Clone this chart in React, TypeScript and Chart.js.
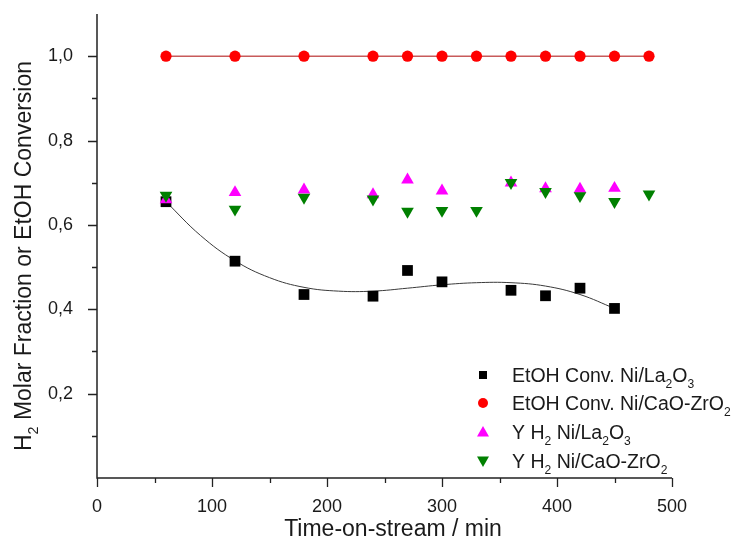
import React, { useEffect, useRef } from 'react';
import { Chart, registerables } from 'chart.js';

Chart.register(...registerables);

// ---------- Data ----------
const timesConvLa = [60, 120, 180, 240, 270, 300, 360, 390, 420, 450];
const convLa = [0.655, 0.514, 0.435, 0.431, 0.492, 0.465, 0.445, 0.432, 0.45, 0.402];

const timesConvCaZr = [60, 120, 180, 240, 270, 300, 330, 360, 390, 420, 450, 480];
const convCaZr = [1.0, 1.0, 1.0, 1.0, 1.0, 1.0, 1.0, 1.0, 1.0, 1.0, 1.0, 1.0];

const timesYLa = [60, 120, 180, 240, 270, 300, 360, 390, 420, 450];
const yH2La = [0.66, 0.677, 0.683, 0.672, 0.707, 0.681, 0.7, 0.686, 0.685, 0.687];

const timesYCaZr = [60, 120, 180, 240, 270, 300, 330, 360, 390, 420, 450, 480];
const yH2CaZr = [0.67, 0.637, 0.665, 0.661, 0.632, 0.634, 0.634, 0.7, 0.679, 0.669, 0.655, 0.673];

// fitted trend curve through the Ni/La2O3 conversion points
const fitTimes = [60, 90, 120, 150, 180, 210, 240, 270, 300, 330, 360, 390, 420, 450];
const fitConvLa = [0.655, 0.575, 0.515, 0.475, 0.452, 0.443, 0.443, 0.45, 0.458, 0.463, 0.463, 0.455, 0.435, 0.402];

const xMajorTicks = [0, 100, 200, 300, 400, 500];
const xMinorTicks = [50, 150, 250, 350, 450];
const yMajorTicks = [0.2, 0.4, 0.6, 0.8, 1.0];
const yMinorTicks = [0.1, 0.3, 0.5, 0.7, 0.9];

type Part = { t: string; sub?: boolean };

const xTitle: Part[] = [{ t: 'Time-on-stream / min' }];
const yTitle: Part[] = [{ t: 'H' }, { t: '2', sub: true }, { t: ' Molar Fraction or EtOH Conversion' }];

const legendLabels: Part[][] = [
  [{ t: 'EtOH Conv. Ni/La' }, { t: '2', sub: true }, { t: 'O' }, { t: '3', sub: true }],
  [{ t: 'EtOH Conv. Ni/CaO-ZrO' }, { t: '2', sub: true }],
  [{ t: 'Y H' }, { t: '2', sub: true }, { t: ' Ni/La' }, { t: '2', sub: true }, { t: 'O' }, { t: '3', sub: true }],
  [{ t: 'Y H' }, { t: '2', sub: true }, { t: ' Ni/CaO-ZrO' }, { t: '2', sub: true }],
];
const legendMarkers = ['rect', 'circle', 'triangle', 'triangleDown'];
const legendColors = ['#000000', '#ff0000', '#ff00ff', '#008000'];

const FONT = 'Arial, "Liberation Sans", Helvetica, sans-serif';
const TEXT = '#1a1a1a';

function pts(xs: number[], ys: number[]) {
  return xs.map((x, i) => ({ x, y: ys[i] }));
}

function fontOf(size: number) {
  return `${size}px ${FONT}`;
}

function richWidth(ctx: CanvasRenderingContext2D, parts: Part[], size: number) {
  let w = 0;
  for (const p of parts) {
    ctx.font = fontOf(p.sub ? size * 0.62 : size);
    w += ctx.measureText(p.t).width;
  }
  return w;
}

function drawRich(ctx: CanvasRenderingContext2D, parts: Part[], x: number, y: number, size: number) {
  ctx.textBaseline = 'alphabetic';
  ctx.textAlign = 'left';
  let cx = x;
  for (const p of parts) {
    const s = p.sub ? size * 0.62 : size;
    ctx.font = fontOf(s);
    ctx.fillText(p.t, cx, y + (p.sub ? size * 0.3 : 0));
    cx += ctx.measureText(p.t).width;
  }
}

function drawMarker(ctx: CanvasRenderingContext2D, kind: string, x: number, y: number, color: string) {
  ctx.fillStyle = color;
  ctx.beginPath();
  if (kind === 'rect') {
    ctx.rect(x - 4, y - 4, 8, 8);
  } else if (kind === 'circle') {
    ctx.arc(x, y, 5, 0, Math.PI * 2);
  } else if (kind === 'triangle') {
    ctx.moveTo(x, y - 6);
    ctx.lineTo(x + 6, y + 4.5);
    ctx.lineTo(x - 6, y + 4.5);
    ctx.closePath();
  } else {
    ctx.moveTo(x, y + 6);
    ctx.lineTo(x + 6, y - 4.5);
    ctx.lineTo(x - 6, y - 4.5);
    ctx.closePath();
  }
  ctx.fill();
}

const decorPlugin = {
  id: 'decor',
  afterDraw(chart: any) {
    const ctx: CanvasRenderingContext2D = chart.ctx;
    const xs = chart.scales.x;
    const ys = chart.scales.y;
    const area = chart.chartArea;
    ctx.save();
    ctx.strokeStyle = '#222';
    ctx.lineWidth = 1.5;
    // axis lines
    ctx.beginPath();
    ctx.moveTo(area.left, area.top);
    ctx.lineTo(area.left, area.bottom);
    ctx.lineTo(area.right, area.bottom);
    ctx.stroke();
    // ticks
    ctx.lineWidth = 1.3;
    ctx.beginPath();
    for (const v of yMajorTicks) {
      const py = Math.round(ys.getPixelForValue(v)) + 0.5;
      ctx.moveTo(area.left - 9, py);
      ctx.lineTo(area.left, py);
    }
    for (const v of yMinorTicks) {
      const py = Math.round(ys.getPixelForValue(v)) + 0.5;
      ctx.moveTo(area.left - 5, py);
      ctx.lineTo(area.left, py);
    }
    for (const v of xMajorTicks) {
      const px = Math.round(xs.getPixelForValue(v)) + 0.5;
      ctx.moveTo(px, area.bottom);
      ctx.lineTo(px, area.bottom + 9);
    }
    for (const v of xMinorTicks) {
      const px = Math.round(xs.getPixelForValue(v)) + 0.5;
      ctx.moveTo(px, area.bottom);
      ctx.lineTo(px, area.bottom + 5);
    }
    ctx.stroke();

    ctx.fillStyle = TEXT;
    // x title
    const xtSize = 23;
    const xtw = richWidth(ctx, xTitle, xtSize);
    drawRich(ctx, xTitle, 393 - xtw / 2, 536, xtSize);

    // y title (rotated)
    const ytSize = 23;
    const ytw = richWidth(ctx, yTitle, ytSize);
    ctx.save();
    ctx.translate(31, 256);
    ctx.rotate(-Math.PI / 2);
    ctx.fillStyle = TEXT;
    drawRich(ctx, yTitle, -ytw / 2, 0, ytSize);
    ctx.restore();

    // legend
    const rows = [375, 403, 432, 461];
    const lgSize = 19.5;
    legendLabels.forEach((parts, i) => {
      drawMarker(ctx, legendMarkers[i], 483, rows[i], legendColors[i]);
      ctx.fillStyle = TEXT;
      drawRich(ctx, parts, 512, rows[i] + lgSize * 0.36, lgSize);
    });
    ctx.restore();
  },
};

export default function App() {
  const ref = useRef<HTMLCanvasElement | null>(null);

  useEffect(() => {
    if (!ref.current) return;
    const chart = new Chart(ref.current, {
      type: 'scatter',
      data: {
        datasets: [
          {
            label: 'fit',
            data: pts(fitTimes, fitConvLa),
            showLine: true,
            borderColor: '#3a3a3a',
            borderWidth: 1,
            pointRadius: 0,
            tension: 0.4,
            order: 5,
          },
          {
            label: 'EtOH Conv. Ni/CaO-ZrO2',
            data: pts(timesConvCaZr, convCaZr),
            showLine: true,
            borderColor: '#c85a5a',
            borderWidth: 1.5,
            pointStyle: 'circle',
            pointRadius: 5.6,
            pointBackgroundColor: '#ff0000',
            pointBorderWidth: 0,
            order: 4,
          },
          {
            label: 'EtOH Conv. Ni/La2O3',
            data: pts(timesConvLa, convLa),
            pointStyle: 'rect',
            pointRadius: 7.6,
            pointBackgroundColor: '#000000',
            pointBorderWidth: 0,
            order: 3,
          },
          {
            label: 'Y H2 Ni/La2O3',
            data: pts(timesYLa, yH2La),
            pointStyle: 'triangle',
            pointRadius: 7.3,
            pointBackgroundColor: '#ff00ff',
            pointBorderWidth: 0,
            order: 2,
          },
          {
            label: 'Y H2 Ni/CaO-ZrO2',
            data: pts(timesYCaZr, yH2CaZr),
            pointStyle: 'triangle',
            rotation: 180,
            pointRadius: 7.3,
            pointBackgroundColor: '#008000',
            pointBorderWidth: 0,
            order: 1,
          },
        ],
      },
      options: {
        animation: false,
        responsive: false,
        devicePixelRatio: 1,
        layout: { padding: { top: 14, right: 63, left: 0, bottom: 0 } },
        plugins: { legend: { display: false }, tooltip: { enabled: false } },
        scales: {
          x: {
            type: 'linear',
            min: 0,
            max: 500,
            grid: { display: false },
            border: { display: false },
            afterBuildTicks: (s: any) => {
              s.ticks = xMajorTicks.map((v) => ({ value: v }));
            },
            afterFit: (s: any) => {
              s.height = 63;
              s.paddingLeft = 0;
              s.paddingRight = 0;
              s.paddingTop = 0;
              s.paddingBottom = 0;
            },
            ticks: {
              padding: 10,
              color: TEXT,
              font: { family: FONT, size: 18 },
              maxRotation: 0,
              callback: (v: any) => String(v),
            },
          },
          y: {
            type: 'linear',
            min: 0,
            max: 1.1,
            grid: { display: false },
            border: { display: false },
            afterBuildTicks: (s: any) => {
              s.ticks = yMajorTicks.map((v) => ({ value: v }));
            },
            afterFit: (s: any) => {
              s.width = 97;
              s.paddingLeft = 0;
              s.paddingRight = 0;
              s.paddingTop = 0;
              s.paddingBottom = 0;
            },
            ticks: {
              padding: 16,
              color: TEXT,
              font: { family: FONT, size: 18 },
              callback: (v: any) => Number(v).toFixed(1).replace('.', ','),
            },
          },
        },
      } as any,
      plugins: [decorPlugin],
    });
    return () => chart.destroy();
  }, []);

  return (
    <div style={{ position: 'absolute', left: 0, top: 0, width: 735, height: 541, background: '#fff' }}>
      <canvas ref={ref} width={735} height={541} style={{ display: 'block' }} />
    </div>
  );
}
